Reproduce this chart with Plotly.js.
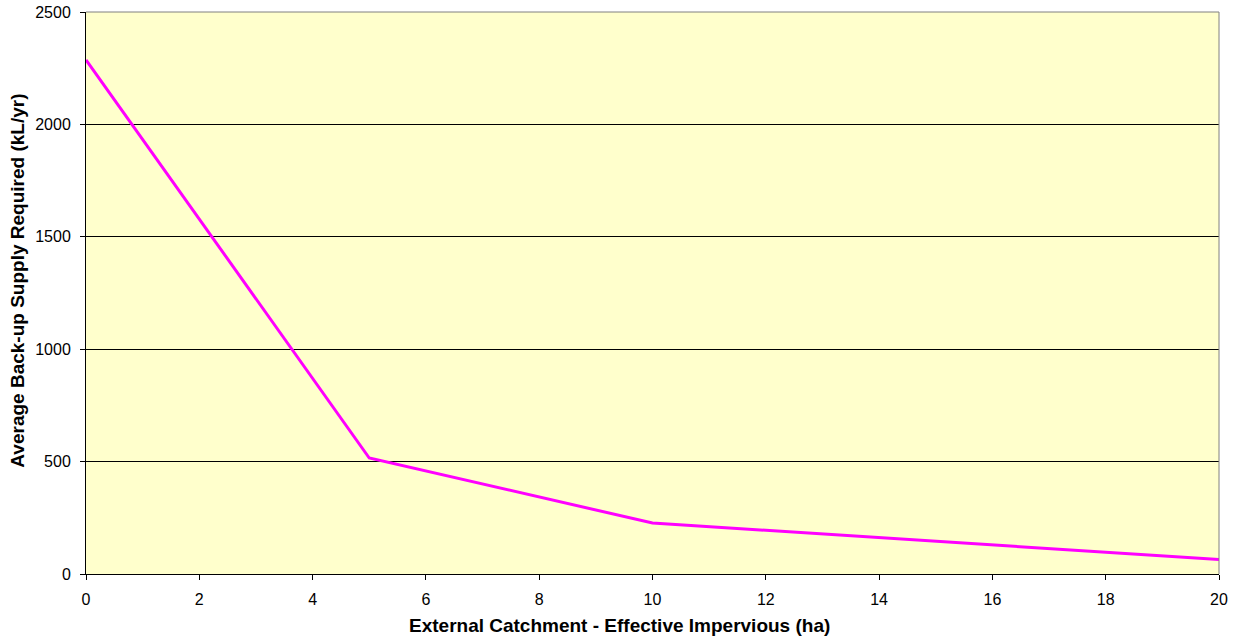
<!DOCTYPE html>
<html><head><meta charset="utf-8">
<script src="https://cdn.plot.ly/plotly-3.0.1.min.js"></script>
<style>html,body{margin:0;padding:0;background:#fff}#chart{width:1248px;height:641px}</style>
</head><body><div id="chart"></div>
<script>
const catchment = [0, 5, 10, 20];
const backupSupply = [2287, 516, 227, 64];
const xTicks = [0, 2, 4, 6, 8, 10, 12, 14, 16, 18, 20];
const yTicks = [0, 500, 1000, 1500, 2000, 2500];
const xTitle = 'External Catchment - Effective Impervious (ha)';
const yTitle = 'Average Back-up Supply Required (kL/yr)';

const trace = {
  x: catchment, y: backupSupply, type: 'scatter', mode: 'lines',
  line: {color: '#FF00FF', width: 3}, hoverinfo: 'x+y'
};
const fam = 'Liberation Sans, Arial, sans-serif';
const font = {family: fam, color: '#000'};
const layout = {
  width: 1248, height: 641,
  margin: {l: 86, r: 29, t: 12, b: 67},
  paper_bgcolor: '#fff', plot_bgcolor: '#FFFFCC',
  showlegend: false,
  font: Object.assign({size: 16}, font),
  xaxis: {
    range: [0, 20], tickvals: xTicks, ticktext: xTicks.map(String),
    showgrid: false, zeroline: false, showline: true, linecolor: '#000', linewidth: 1,
    ticks: 'outside', ticklen: 5, tickcolor: '#000', ticklabelstandoff: 6,
    tickfont: Object.assign({size: 16}, font)
  },
  yaxis: {
    range: [0, 2500], tickvals: yTicks, ticktext: yTicks.map(String),
    showgrid: true, gridcolor: '#000', gridwidth: 1, zeroline: false,
    showline: true, linecolor: '#000', linewidth: 1,
    ticks: 'outside', ticklen: 5, tickcolor: '#000', ticklabelstandoff: 6,
    tickfont: Object.assign({size: 16}, font)
  },
  annotations: [
    {text: '<b>' + xTitle + '</b>', xref: 'paper', yref: 'paper', x: 0.4713, y: -0.0925,
     xanchor: 'center', yanchor: 'middle', showarrow: false, font: Object.assign({size: 19}, font)},
    {text: '<b>' + yTitle + '</b>', xref: 'paper', yref: 'paper', x: -0.06, y: 0.522,
     xanchor: 'center', yanchor: 'middle', textangle: -90, showarrow: false, font: Object.assign({size: 19}, font)}
  ],
  shapes: [
    {type: 'line', xref: 'paper', yref: 'paper', x0: 0, x1: 1, y0: 1, y1: 1, line: {color: '#808080', width: 1}},
    {type: 'line', xref: 'paper', yref: 'paper', x0: 1, x1: 1, y0: 0, y1: 1, line: {color: '#808080', width: 1}}
  ]
};
Plotly.newPlot('chart', [trace], layout, {displayModeBar: false, staticPlot: true});
</script></body></html>
